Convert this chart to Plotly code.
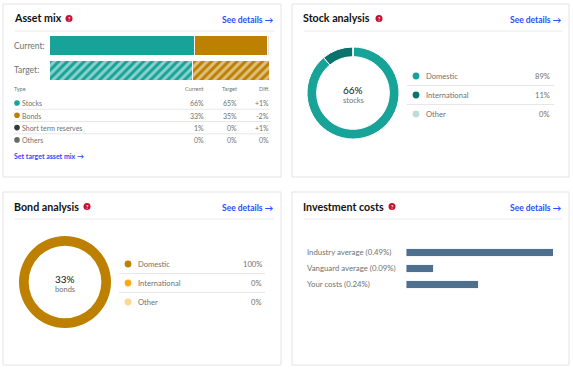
import plotly.graph_objects as go

W, H = 573, 370
FONT = "Lato"
TEAL, TEAL_D, TEAL_L = "#17a398", "#0b736c", "#c0dcd9"
GOLD, ORANGE, GOLD_L = "#bd8000", "#fbab18", "#fdd98f"
DARK, GREY = "#333a39", "#666b6a"
BLUE = "#2b4cff"
SLATE = "#4f6f8f"
TXT = "#6f7371"

# Data
mix_rows = ["Current:", "Target:"]
mix_names = ["Stocks", "Bonds", "Short term reserves", "Others"]
mix_current = [66, 33, 1, 0]
mix_target = [65, 35, 0, 0]
mix_diff = ["+1%", "-2%", "+1%", "0%"]
mix_colors = [TEAL, GOLD, DARK, GREY]
mix_bar_colors = [TEAL, GOLD, "#dfe2e1", GREY]

stock_names = ["Domestic", "International", "Other"]
stock_values = [89, 11, 0]
stock_colors = [TEAL, TEAL_D, TEAL_L]

bond_names = ["Domestic", "International", "Other"]
bond_values = [100, 0, 0]
bond_colors = [GOLD, ORANGE, GOLD_L]

cost_names = ["Industry average", "Vanguard average", "Your costs"]
cost_values = [0.49, 0.09, 0.24]

fx = lambda x: x / W
fy = lambda y: 1 - y / H

fig = go.Figure()
shapes, notes = [], []


def text(x, y, s, size=7, color=TXT, anchor="left", bold=False):
    notes.append(dict(x=fx(x), y=fy(y), xref="paper", yref="paper", text=f"<b>{s}</b>" if bold else s,
                      showarrow=False, xanchor=anchor, yanchor="middle",
                      font=dict(family=FONT, size=size, color=color), borderpad=0, borderwidth=0))


def line(x0, x1, y, color="#e6e8e7"):
    shapes.append(dict(type="line", xref="paper", yref="paper", x0=fx(x0), x1=fx(x1), y0=fy(y), y1=fy(y),
                       line=dict(color=color, width=1)))


def dot(x, y, r, color):
    shapes.append(dict(type="circle", xref="paper", yref="paper", x0=fx(x - r), x1=fx(x + r),
                       y0=fy(y + r), y1=fy(y - r), fillcolor=color, line=dict(width=0)))


def card(x0, y0, x1, y1, title, tx, hy, link_y):
    shapes.append(dict(type="rect", xref="paper", yref="paper", x0=fx(x0), x1=fx(x1), y0=fy(y1), y1=fy(y0),
                       fillcolor="white", line=dict(color="#e2e3e3", width=1), layer="below"))
    text(x0 + 11, hy, title, size=10.7, color="#111111", bold=True)
    dot(tx, hy + 0.5, 3.5, "#c8102e")
    text(tx, hy + 0.5, "?", size=5, color="white", anchor="center", bold=True)
    text(x1 - 7, link_y, "See details →", size=8.5, color=BLUE, anchor="right", bold=True)
    line(x0 + 12, x1 - 7, hy + 13)


card(3, 4, 281, 177, "Asset mix", 69, 18, 20)
card(292, 4, 569, 177, "Stock analysis", 379, 18, 20)
card(3, 192, 281, 365, "Bond analysis", 87, 206, 208)
card(292, 192, 569, 365, "Investment costs", 392, 206, 208)

# Asset mix stacked bars
for i, n in enumerate(mix_names):
    fig.add_trace(go.Bar(
        y=mix_rows, x=[mix_current[i], mix_target[i]], orientation="h", name=n, xaxis="x", yaxis="y",
        marker=dict(color=mix_bar_colors[i],
                    line=dict(color="white", width=1),
                    pattern=dict(shape=["", "/"], fgcolor="white", bgcolor=mix_bar_colors[i], size=6,
                                 solidity=0.5)),
        hoverinfo="skip", showlegend=False))

# Costs bars
fig.add_trace(go.Bar(y=cost_names, x=cost_values, orientation="h", xaxis="x2", yaxis="y2",
                     marker=dict(color=SLATE), width=0.46, hoverinfo="skip", showlegend=False))

# Donuts
def donut(cx, cy, values, colors, label1, label2, edge):
    r = 46
    fig.add_trace(go.Pie(values=values, marker=dict(colors=colors, line=dict(color="white", width=edge)),
                         hole=0.79, sort=False, direction="clockwise", rotation=0, textinfo="none",
                         hoverinfo="skip", showlegend=False,
                         domain=dict(x=[fx(cx - r), fx(cx + r)], y=[fy(cy + r), fy(cy - r)])))
    text(cx, cy - 3, label1, size=10, color="#111111", anchor="center")
    text(cx, cy + 7, label2, size=7.5, color=TXT, anchor="center")


donut(353, 93, stock_values, stock_colors, f"{mix_current[0]}%", "stocks", 1)
donut(65, 282, bond_values, bond_colors, f"{mix_current[1]}%", "bonds", 0)

# Asset-mix labels and table
text(14, 46, mix_rows[0], size=8.5)
text(14, 70, mix_rows[1], size=8.5)
text(14, 89.5, "Type", size=5.5)
for x, s in zip((204, 237, 269), ("Current", "Target", "Diff.")):
    text(x, 89.5, s, size=5.5, anchor="right")
for i, n in enumerate(mix_names):
    y = 103 + i * 12.3
    dot(17, y, 2.8, mix_colors[i])
    text(22, y + 0.5, n, size=7)
    text(204, y + 0.5, f"{mix_current[i]}%", size=7, anchor="right")
    text(237, y + 0.5, f"{mix_target[i]}%", size=7, anchor="right")
    text(269, y + 0.5, mix_diff[i], size=7, anchor="right")
    if i < 3:
        line(14, 270, y + 6.2)
text(14, 156, "Set target asset mix →", size=7, color=BLUE, bold=True)

# Donut legends
def legend(dx, tx, vx, lx0, lx1, y0, names, values, colors):
    for i, n in enumerate(names):
        y = y0 + i * 19
        dot(dx, y, 3.4, colors[i])
        text(tx, y, n, size=7.6)
        text(vx, y, f"{values[i]}%", size=7.6, anchor="right")
        if i < 2:
            line(lx0, lx1, y + 9.5)


legend(416, 426, 550, 407, 554, 76, stock_names, stock_values, stock_colors)
legend(128, 138, 262, 119, 265, 264, bond_names, bond_values, bond_colors)

# Cost labels
for name, val, y in zip(cost_names, cost_values, (252, 268, 284)):
    text(307, y, f"{name} ({val:.2f}%)", size=7.8)

fig.update_layout(
    width=W, height=H, autosize=False, margin=dict(l=0, r=0, t=0, b=0),
    paper_bgcolor="white", plot_bgcolor="rgba(0,0,0,0)", barmode="stack", bargap=0.2,
    font=dict(family=FONT), shapes=shapes, annotations=notes,
    xaxis=dict(domain=[fx(49), fx(269.5)], range=[0, 100], visible=False, fixedrange=True),
    yaxis=dict(domain=[fy(83), fy(33)], categoryorder="array", categoryarray=mix_rows[::-1], visible=False),
    xaxis2=dict(domain=[fx(406), fx(553)], range=[0, 0.49], anchor="y2", visible=False),
    yaxis2=dict(domain=[fy(292.5), fy(244.5)], anchor="x2", categoryorder="array",
                categoryarray=cost_names[::-1], visible=False),
)
fig.write_html("out.html", config=dict(displayModeBar=False),
               post_script="document.documentElement.style.margin='0';document.body.style.margin='0';document.body.style.overflow='hidden';")
